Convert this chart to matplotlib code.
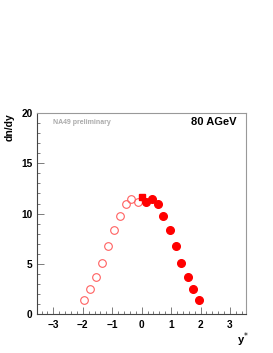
import numpy as np
import matplotlib.pyplot as plt
from matplotlib.ticker import MultipleLocator

# measured points (y > 0) and their reflection
y_meas = [0.14, 0.35, 0.54, 0.74, 0.95, 1.15, 1.35, 1.56, 1.75, 1.96]
dndy_meas = [11.17, 11.4, 10.98, 9.79, 8.40, 6.78, 5.06, 3.74, 2.51, 1.39]
y_refl = [-0.14, -0.35, -0.54, -0.74, -0.95, -1.15, -1.35, -1.56, -1.75, -1.96]
dndy_refl = [11.17, 11.4, 10.98, 9.79, 8.40, 6.78, 5.06, 3.70, 2.51, 1.39]
y_mid = [0.0]
dndy_mid = [11.6]

plt.rcParams['font.family'] = ['Liberation Sans', 'DejaVu Sans']

fig = plt.figure(figsize=(2.73, 3.53), dpi=100)
ax = fig.add_axes([0.137, 0.110, 0.764, 0.570])

ax.plot(y_refl, dndy_refl, 'o', ms=5.5, mfc='none', mec='#ff6060', mew=0.8)
ax.plot(y_meas, dndy_meas, 'o', ms=5.5, color='red', mec='red')
ax.plot(y_mid, dndy_mid, 's', ms=5.0, color='red')

ax.set_xlim(-3.54, 3.54)
ax.set_ylim(0, 20)
ax.xaxis.set_major_locator(MultipleLocator(1))
ax.xaxis.set_minor_locator(MultipleLocator(0.2))
ax.yaxis.set_major_locator(MultipleLocator(5))
ax.yaxis.set_minor_locator(MultipleLocator(1))
ax.tick_params(which='both', direction='in', color='#666666', width=0.6,
               labelsize=7.3)
ax.tick_params(which='major', length=5)
ax.tick_params(which='minor', length=2.5)
ax.tick_params(axis='x', pad=4)
for lab in ax.get_xticklabels() + ax.get_yticklabels():
    lab.set_fontweight('bold')
for s in ax.spines.values():
    s.set_color('#999999')
    s.set_linewidth(0.8)
ax.spines['bottom'].set_color('#444444')
ax.spines['left'].set_color('#444444')

fig.text(0.037, 0.64, 'dn/dy', rotation=90, fontsize=7.5, fontweight='bold',
         ha='center', va='center')
fig.text(0.868, 0.028, 'y$^{*}$', fontsize=8, fontweight='bold')
ax.text(0.075, 0.955, 'NA49 preliminary', transform=ax.transAxes, fontsize=5,
        fontweight='bold', color='#aaaaaa', va='center')
ax.text(0.955, 0.955, '80 AGeV', transform=ax.transAxes, fontsize=8,
        fontweight='bold', ha='right', va='center')

fig.savefig('out.png', dpi=100)
